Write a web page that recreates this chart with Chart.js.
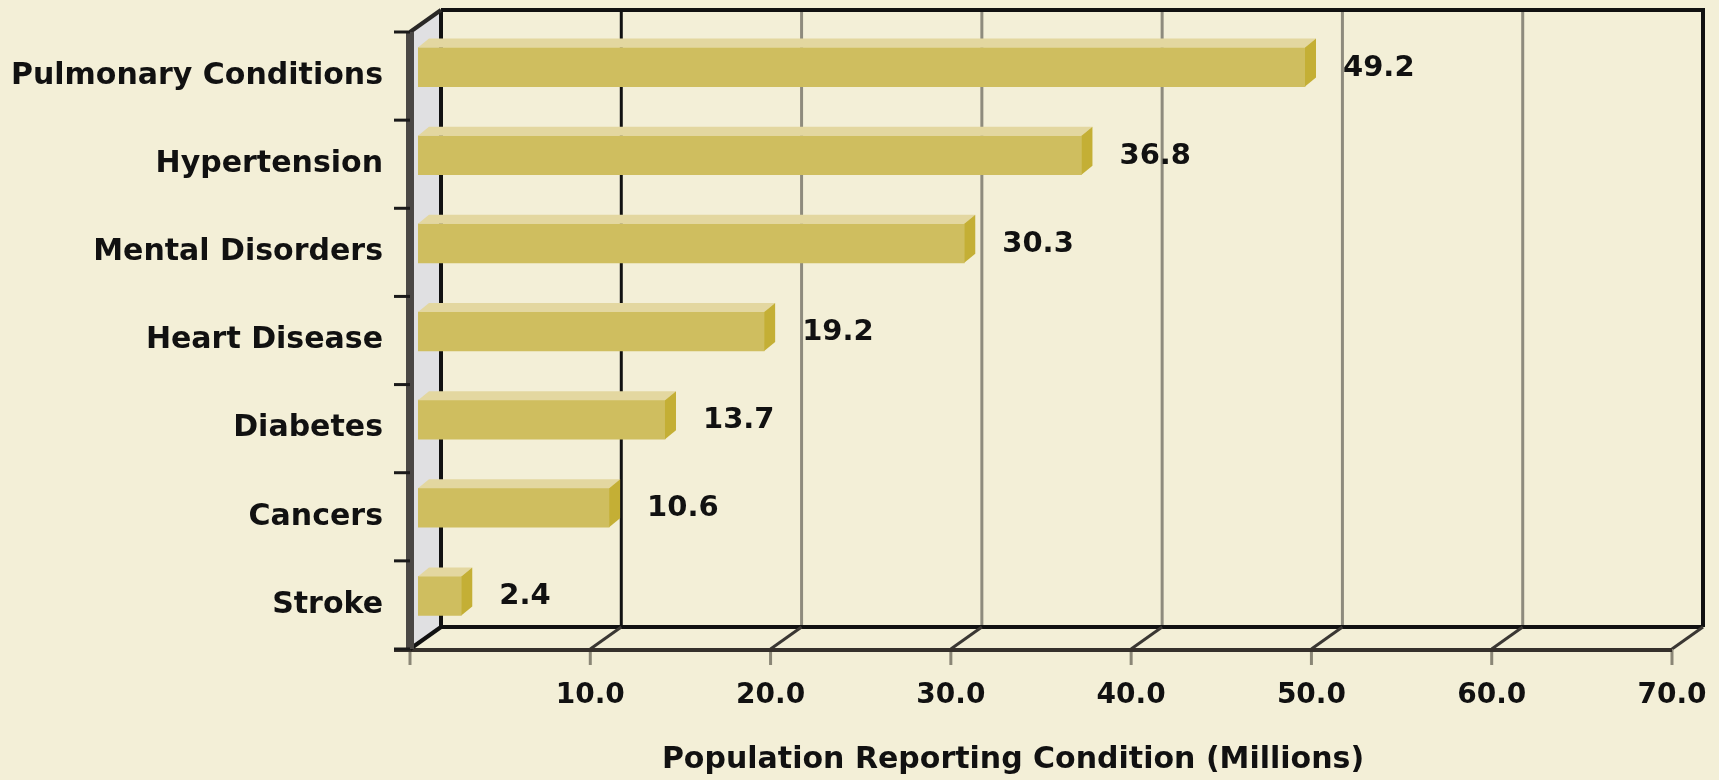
<html>
  <head>
    <script src="https://cdn.jsdelivr.net/npm/chart.js@4.4.1/dist/chart.umd.min.js"></script>
    <style>
      body { margin: 0; background: #f3efd7; }
    </style>
  </head>
  <body>
    <canvas id="myChart" width="1719" height="780"></canvas>

    <script>
      var categories = ['Pulmonary Conditions', 'Hypertension', 'Mental Disorders', 'Heart Disease', 'Diabetes', 'Cancers', 'Stroke'];
      var values = [49.2, 36.8, 30.3, 19.2, 13.7, 10.6, 2.4];
      var axisMax = 70;
      var axisStep = 10;
      var axisTitle = 'Population Reporting Condition (Millions)';

      // depth of the fake 3d box, and of the bars
      var DX = 31, DY = -22;
      var BX = 8, BY = -9;
      var SX = 11, SY = -9;
      var FONT = 'DejaVu Sans';

      function line(ctx, x1, y1, x2, y2, color, w) {
        ctx.beginPath();
        ctx.moveTo(x1, y1);
        ctx.lineTo(x2, y2);
        ctx.strokeStyle = color;
        ctx.lineWidth = w;
        ctx.stroke();
      }

      var boxPlugin = {
        id: 'box3d',
        beforeDraw: function (chart) {
          var ctx = chart.ctx;
          var a = chart.chartArea;
          var xs = chart.scales.x;
          ctx.save();
          ctx.fillStyle = '#f3efd7';
          ctx.fillRect(0, 0, chart.width, chart.height);

          var bx0 = a.left + DX, bx1 = a.right + DX;
          var by0 = a.top + DY, by1 = a.bottom + DY;

          // left wall
          ctx.beginPath();
          ctx.moveTo(a.left, a.top);
          ctx.lineTo(bx0, by0);
          ctx.lineTo(bx0, by1);
          ctx.lineTo(a.left, a.bottom);
          ctx.closePath();
          ctx.fillStyle = '#e0e0e2';
          ctx.fill();

          // back wall grid lines
          for (var v = axisStep; v < axisMax; v += axisStep) {
            var gx = xs.getPixelForValue(v) + DX;
            line(ctx, gx, by0, gx, by1, v === axisStep ? '#111111' : '#8e8b7d', 3);
          }
          line(ctx, bx0, by0, bx1 + 2, by0, '#111111', 4);
          line(ctx, bx1, by0, bx1, by1, '#111111', 4);
          line(ctx, bx0, by1, bx1, by1, '#111111', 4);
          line(ctx, bx0, by0, bx0, by1, '#111111', 4);

          // floor diagonals and front ticks
          for (var t = 0; t <= axisMax; t += axisStep) {
            var fx = xs.getPixelForValue(t);
            if (t > 0) line(ctx, fx + DX, by1, fx, a.bottom, '#3a3733', 3);
            line(ctx, fx, a.bottom, fx, a.bottom + 16, '#8a8676', 3);
          }
          line(ctx, a.left - 16, a.bottom + 1, a.right, a.bottom + 1, '#35302b', 4);

          // wall edges
          line(ctx, a.left, a.top, bx0, by0, '#2a2826', 4);
          line(ctx, a.left, a.bottom, bx0, by1, '#111111', 4);
          line(ctx, a.left, a.top, a.left, a.bottom, '#4a4744', 8);

          // category ticks on the wall
          var n = categories.length;
          for (var i = 0; i <= n; i++) {
            var ty = a.top + (a.bottom - a.top) * i / n;
            line(ctx, a.left - 16, ty, a.left, ty, '#1a1a1a', 3);
          }
          ctx.restore();
        },
        beforeDatasetsDraw: function (chart) {
          chart.ctx.save();
          chart.ctx.translate(BX, BY);
        },
        afterDatasetsDraw: function (chart) {
          var ctx = chart.ctx;
          var bars = chart.getDatasetMeta(0).data;
          bars.forEach(function (b) {
            var p = b.getProps(['x', 'y', 'base', 'height'], true);
            var yt = p.y - p.height / 2, yb = p.y + p.height / 2;
            ctx.beginPath();
            ctx.moveTo(p.base, yt);
            ctx.lineTo(p.base + SX, yt + SY);
            ctx.lineTo(p.x + SX, yt + SY);
            ctx.lineTo(p.x, yt);
            ctx.closePath();
            ctx.fillStyle = '#e3d7a0';
            ctx.fill();
            ctx.beginPath();
            ctx.moveTo(p.x, yt);
            ctx.lineTo(p.x + SX, yt + SY);
            ctx.lineTo(p.x + SX, yb + SY);
            ctx.lineTo(p.x, yb);
            ctx.closePath();
            ctx.fillStyle = '#c4af35';
            ctx.fill();
          });
          ctx.restore();

          ctx.save();
          ctx.font = 'bold 29px "' + FONT + '"';
          ctx.fillStyle = '#111111';
          ctx.textAlign = 'left';
          ctx.textBaseline = 'middle';
          bars.forEach(function (b, i) {
            ctx.fillText(values[i].toFixed(1), b.x + BX + 38, b.y + BY + 1);
          });

          // axis title, a bit left of the plot centre like the original
          ctx.font = 'bold 30px "' + FONT + '"';
          ctx.textAlign = 'center';
          ctx.fillText(axisTitle, 1013, 760);
          ctx.restore();
        }
      };

      var ctx = document.getElementById('myChart').getContext('2d');
      var chart = new Chart(ctx, {
        type: 'bar',
        data: {
          labels: categories,
          datasets: [
            {
              data: values,
              backgroundColor: '#cfbe5f',
              borderWidth: 0,
              barThickness: 39
            }
          ]
        },
        options: {
          indexAxis: 'y',
          responsive: false,
          animation: false,
          layout: { padding: { top: 32, right: 47, left: 0, bottom: 0 } },
          plugins: { legend: { display: false }, tooltip: { enabled: false } },
          scales: {
            x: {
              min: 0,
              max: axisMax,
              grid: { display: false, drawTicks: false },
              border: { display: false },
              afterFit: function (s) {
                s.height = 131;
                s.paddingLeft = 0;
                s.paddingRight = 0;
              },
              ticks: {
                stepSize: axisStep,
                autoSkip: false,
                maxRotation: 0,
                padding: 30,
                color: '#111111',
                font: { family: FONT, size: 28, weight: 'bold' },
                callback: function (v) { return v === 0 ? '' : v.toFixed(1); }
              }
            },
            y: {
              grid: { display: false, drawTicks: false },
              border: { display: false },
              afterFit: function (s) {
                s.width = 410;
                s.paddingTop = 0;
                s.paddingBottom = 0;
              },
              ticks: {
                padding: 27,
                color: '#111111',
                font: { family: FONT, size: 30, weight: 'bold' }
              }
            }
          }
        },
        plugins: [boxPlugin]
      });
    </script>
  </body>
</html>
